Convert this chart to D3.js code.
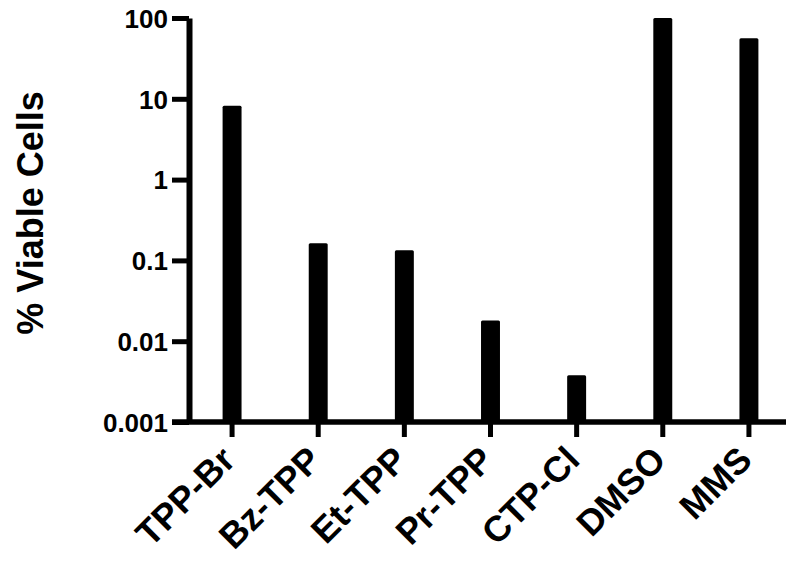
<!DOCTYPE html>
<html>
<head>
<meta charset="utf-8">
<script src="https://cdn.jsdelivr.net/npm/d3@7"></script>
<style>
  body { margin: 0; background: #fff; }
  text { font-family: "Liberation Sans", Arial, Helvetica, sans-serif; font-weight: bold; fill: #000; }
</style>
</head>
<body>
<div id="chart"></div>
<script>
// compounds and % viable cells
const categories = ["TPP-Br", "Bz-TPP", "Et-TPP", "Pr-TPP", "CTP-Cl", "DMSO", "MMS"];
const viable = [8.2, 0.163, 0.134, 0.018, 0.0038, 100, 56];
const yTicks = [0.001, 0.01, 0.1, 1, 10, 100];
const yTickLabels = ["0.001", "0.01", "0.1", "1", "10", "100"];

const width = 786, height = 561;
const plotLeft = 189, plotTop = 18, plotBottom = 422, plotRight = 792;

const svg = d3.select("#chart").append("svg")
    .attr("width", width)
    .attr("height", height);

const x = d3.scaleBand()
    .domain(categories)
    .range([plotLeft, plotRight])
    .paddingInner(0.78)
    .paddingOuter(0.39);

const y = d3.scaleLog()
    .domain([0.001, 100])
    .range([plotBottom, plotTop]);

// bars
svg.append("g")
    .selectAll("rect")
    .data(categories)
    .join("rect")
    .attr("x", d => x(d))
    .attr("width", x.bandwidth())
    .attr("y", (d, i) => y(viable[i]))
    .attr("height", (d, i) => y(0.001) - y(viable[i]))
    .attr("rx", 1.5)
    .attr("fill", "#000");

// y axis
const yAxis = svg.append("g")
    .attr("transform", `translate(${plotLeft},0)`)
    .call(d3.axisLeft(y).tickValues(yTicks).tickFormat((d, i) => yTickLabels[i]).tickSize(17).tickPadding(4).tickSizeOuter(0));
yAxis.select(".domain").attr("stroke", "#000").attr("stroke-width", 6);
yAxis.selectAll(".tick line").attr("stroke", "#000").attr("stroke-width", 5);
yAxis.selectAll(".tick text")
    .attr("font-size", 26)
    .attr("font-family", null)
    .attr("dy", "0.36em");

// x axis
const xAxis = svg.append("g")
    .attr("transform", `translate(0,${plotBottom})`)
    .call(d3.axisBottom(x).tickSize(15).tickSizeOuter(0));
xAxis.select(".domain").attr("stroke", "#000").attr("stroke-width", 5.5)
    .attr("d", `M${plotLeft - 17},0H${plotRight}`);
xAxis.selectAll(".tick line").attr("stroke", "#000").attr("stroke-width", 5);
xAxis.selectAll(".tick text").remove();

// rotated category labels
const labels = svg.append("g")
    .selectAll("g")
    .data(categories)
    .join("g")
    .attr("transform", d => `translate(${x(d) + x.bandwidth() / 2 + 5},462)`);
labels.append("text")
    .attr("transform", "rotate(-45)")
    .attr("text-anchor", "end")
    .attr("font-size", 36)
    .text(d => d);

// y axis title
svg.append("text")
    .attr("transform", "translate(43,213) rotate(-90)")
    .attr("text-anchor", "middle")
    .attr("font-size", 36)
    .text("% Viable Cells");
</script>
</body>
</html>
